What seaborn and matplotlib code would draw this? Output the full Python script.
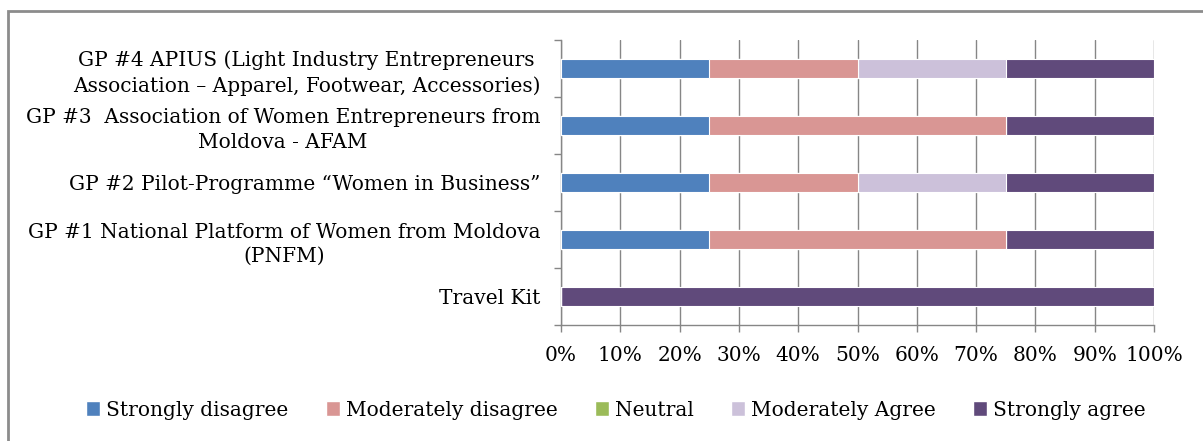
import pandas as pd
import seaborn as sns
import matplotlib.pyplot as plt
from matplotlib.patches import Patch, Rectangle
from matplotlib.ticker import FixedLocator, PercentFormatter

# data (percent of responses)
categories = [
    "GP #4 APIUS (Light Industry Entrepreneurs\nAssociation \u2013 Apparel, Footwear, Accessories)",
    "GP #3  Association of Women Entrepreneurs from\nMoldova - AFAM",
    "GP #2 Pilot-Programme \u201cWomen in Business\u201d",
    "GP #1 National Platform of Women from Moldova\n(PNFM)",
    "Travel Kit",
]
series = ["Strongly disagree", "Moderately disagree", "Neutral",
          "Moderately Agree", "Strongly agree"]
strongly_disagree = [25, 25, 25, 25, 0]
moderately_disagree = [25, 50, 25, 50, 0]
neutral = [0, 0, 0, 0, 0]
moderately_agree = [25, 0, 25, 0, 0]
strongly_agree = [25, 25, 25, 25, 100]
colors = ["#4F81BD", "#D99694", "#9BBB59", "#CCC1DA", "#604A7B"]

df = pd.DataFrame({
    "category": categories,
    series[0]: strongly_disagree,
    series[1]: moderately_disagree,
    series[2]: neutral,
    series[3]: moderately_agree,
    series[4]: strongly_agree,
})
cum = df[series].cumsum(axis=1)

sns.set_style("white")
plt.rcParams["font.family"] = ["DejaVu Serif"]
plt.rcParams["text.color"] = "black"
plt.rcParams["xtick.labelcolor"] = "black"
plt.rcParams["ytick.labelcolor"] = "black"
FS = 14.5

fig = plt.figure(figsize=(12.03, 4.41), dpi=100)
ax = fig.add_axes([561 / 1203, 1 - 325 / 441, 593 / 1203, 285 / 441])

# stacked bars: draw the cumulative totals from the widest down
for name, col in reversed(list(zip(series, colors))):
    sns.barplot(x=cum[name], y=df["category"], orient="h", color=col,
                saturation=1, width=0.35, edgecolor="white", linewidth=0.8,
                ax=ax, zorder=3)

ax.set_xlim(0, 100)
ax.set_ylim(4.5, -0.5)
ax.set_xlabel("")
ax.set_ylabel("")
ax.xaxis.set_major_locator(FixedLocator(range(0, 101, 10)))
ax.xaxis.set_major_formatter(PercentFormatter(decimals=0))
ax.grid(axis="x", color="#868686", linewidth=1, zorder=0)
ax.set_axisbelow(True)

ax.yaxis.set_minor_locator(FixedLocator([-0.5, 0.5, 1.5, 2.5, 3.5, 4.5]))
ax.tick_params(axis="y", which="major", length=0, pad=15, labelsize=FS)
ax.tick_params(axis="y", which="minor", left=True, length=5, width=1,
               color="#868686", direction="out")
ax.tick_params(axis="x", which="major", bottom=True, length=5, width=1,
               color="#868686", direction="out", pad=10, labelsize=FS)
for lab in ax.get_yticklabels():
    lab.set_multialignment("center")
    lab.set_linespacing(1.35)

for side in ["top", "right"]:
    ax.spines[side].set_visible(False)
for side in ["left", "bottom"]:
    ax.spines[side].set_color("#868686")
    ax.spines[side].set_linewidth(1)

handles = [Patch(facecolor=c, edgecolor="white", label=s)
           for s, c in zip(series, colors)]
fig.legend(handles=handles, loc="center", bbox_to_anchor=(0.512, 1 - 410 / 441),
           ncol=5, frameon=False, fontsize=FS, handlelength=0.7,
           handleheight=0.7, handletextpad=0.3, columnspacing=1.85)

fig.patches.append(Rectangle((8 / 1203, -0.2), 1.2, 1.2 - 11 / 441,
                             transform=fig.transFigure, fill=False,
                             edgecolor="#8c8c8c", linewidth=2))

fig.savefig("out.png", dpi=100)
